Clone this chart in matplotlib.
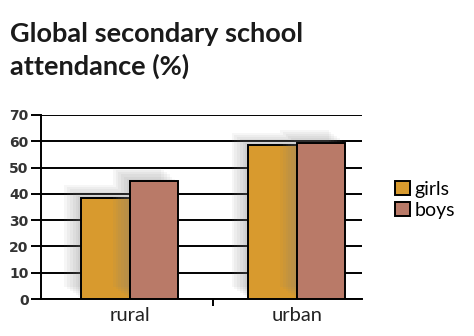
import matplotlib.pyplot as plt
import matplotlib.patheffects as pe
import numpy as np

# data
categories = ['rural', 'urban']
girls = [38.5, 58.5]
boys = [45, 59.5]
yticks = [0, 10, 20, 30, 40, 50, 60, 70]

girls_col = '#D89A2E'
boys_col = '#B97A68'

fig = plt.figure(figsize=(4.74, 3.36), dpi=100)
ax = fig.add_axes([0.0865, 0.110, 0.677, 0.548])

x = np.arange(len(categories))
w = 0.29
# soft shadow: several faint layers
shadow = [pe.SimplePatchShadow(offset=(-2 * k, 1.5 * k), shadow_rgbFace='#808080', alpha=0.07)
          for k in range(1, 7)] + [pe.Normal()]
b1 = ax.bar(x - w / 2, girls, w, color=girls_col, edgecolor='black', linewidth=1.4,
            label='girls', zorder=3, path_effects=shadow)
b2 = ax.bar(x + w / 2, boys, w, color=boys_col, edgecolor='black', linewidth=1.4,
            label='boys', zorder=3, path_effects=shadow)

ax.set_xlim(-0.53, 0.39 + 1)
ax.set_ylim(0, 70)
ax.set_yticks(yticks)
ax.set_yticklabels([str(v) for v in yticks], fontsize=10, family='DejaVu Sans',
                   fontweight='bold', color='#333333')
ax.yaxis.grid(True, color='black', linewidth=1.4, zorder=0)
ax.set_axisbelow(True)
ax.tick_params(axis='y', length=7, width=1.4, pad=2)

ax.set_xticks([0.5])
ax.set_xticklabels([''])
ax.tick_params(axis='x', length=5, width=1.4)
for xi, c in zip(x, categories):
    ax.text(xi, -3.2, c, ha='center', va='top', fontsize=14.5, family='Lato', color='#222222')

for s in ['top', 'right']:
    ax.spines[s].set_visible(False)
ax.spines['left'].set_linewidth(1.4)
ax.spines['bottom'].set_linewidth(1.4)

fig.text(0.021, 0.875, 'Global secondary school', fontsize=19.5, fontweight='bold',
         family='Lato', color='#1a1a1a')
fig.text(0.021, 0.777, 'attendance (%)', fontsize=19.5, fontweight='bold',
         family='Lato', color='#1a1a1a')

leg = fig.legend(handles=[b1, b2], loc='center left', bbox_to_anchor=(0.797, 0.405),
                 frameon=False, handlelength=0.75, handleheight=0.75,
                 handletextpad=0.25, labelspacing=0.2, prop={'family': 'Lato', 'size': 14})
for h in leg.legend_handles:
    h.set_path_effects([])

fig.savefig('out.png', dpi=100)
